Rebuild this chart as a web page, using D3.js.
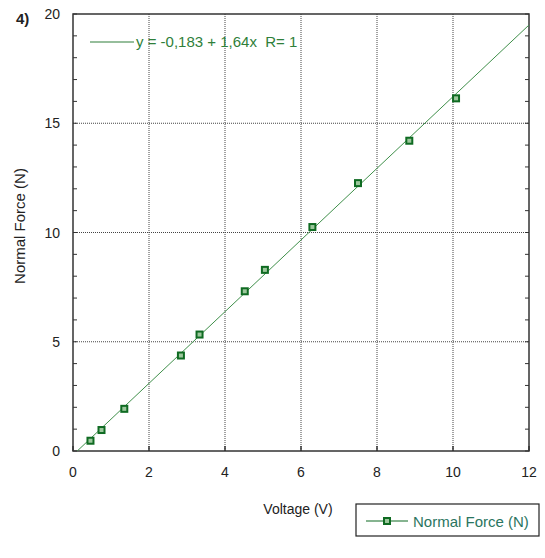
<!DOCTYPE html>
<html><head><meta charset="utf-8">
<script src="https://cdn.jsdelivr.net/npm/d3@7"></script>
<style>body{margin:0;background:#fff}svg{display:block}text{white-space:pre}</style>
</head><body>
<script>
const voltage = [0.46, 0.75, 1.35, 2.84, 3.33, 4.52, 5.05, 6.3, 7.5, 8.85, 10.08];
const force   = [0.47, 0.96, 1.93, 4.37, 5.33, 7.31, 8.29, 10.25, 12.26, 14.2, 16.14];
const xTicks = [0, 2, 4, 6, 8, 10, 12];
const yTicks = [0, 5, 10, 15, 20];
const yMinor = d3.range(0, 21, 1);
const fitIntercept = -0.183, fitSlope = 1.64;
const fitLabel = "y = -0,183 + 1,64x  R= 1";
const seriesName = "Normal Force (N)";

const W = 545, H = 558;
const svg = d3.select("body").append("svg").attr("width", W).attr("height", H);
const L = 73, R = 529, T = 14, B = 451;
const x = d3.scaleLinear().domain([0, 12]).range([L, R]);
const y = d3.scaleLinear().domain([0, 20]).range([B, T]);
const font = "Arial, 'Liberation Sans', sans-serif";
const frame = "#333";

// grid
const g = svg.append("g");
g.selectAll(".gx").data(xTicks.filter(d => d > 0 && d < 12)).join("line")
  .attr("x1", d => x(d)).attr("x2", d => x(d)).attr("y1", T).attr("y2", B)
  .attr("stroke", "#444").attr("stroke-width", 1).attr("stroke-dasharray", "1,1");
g.selectAll(".gy").data(yTicks.filter(d => d > 0 && d < 20)).join("line")
  .attr("y1", d => y(d)).attr("y2", d => y(d)).attr("x1", L).attr("x2", R)
  .attr("stroke", "#444").attr("stroke-width", 1).attr("stroke-dasharray", "1,1");

// minor ticks left and right (inward)
g.selectAll(".ml").data(yMinor).join("line")
  .attr("x1", L).attr("x2", L + 4).attr("y1", d => y(d)).attr("y2", d => y(d))
  .attr("stroke", frame).attr("stroke-width", 1);
g.selectAll(".mr").data(yMinor).join("line")
  .attr("x1", R - 4).attr("x2", R).attr("y1", d => y(d)).attr("y2", d => y(d))
  .attr("stroke", frame).attr("stroke-width", 1);
g.selectAll(".tx").data(xTicks).join("line")
  .attr("x1", d => x(d)).attr("x2", d => x(d)).attr("y1", B).attr("y2", B - 5)
  .attr("stroke", frame).attr("stroke-width", 1.5);

// frame
svg.append("rect").attr("x", L).attr("y", T).attr("width", R - L).attr("height", B - T)
  .attr("fill", "none").attr("stroke", frame).attr("stroke-width", 1.5);

// tick labels
svg.selectAll(".xl").data(xTicks).join("text")
  .attr("x", d => x(d)).attr("y", B + 26).attr("text-anchor", "middle")
  .attr("font-family", font).attr("font-size", 14).attr("fill", "#222").text(d => d);
svg.selectAll(".yl").data(yTicks).join("text")
  .attr("x", 60).attr("y", d => y(d) + 5).attr("text-anchor", "end")
  .attr("font-family", font).attr("font-size", 14).attr("fill", "#222").text(d => d);

// axis titles
svg.append("text").attr("x", 298).attr("y", 514).attr("text-anchor", "middle")
  .attr("font-family", font).attr("font-size", 14).attr("fill", "#222").text("Voltage (V)");
svg.append("text").attr("transform", "translate(25,226) rotate(-90)").attr("text-anchor", "middle")
  .attr("font-family", font).attr("font-size", 15).attr("fill", "#222").text("Normal Force (N)");
svg.append("text").attr("x", 16).attr("y", 24).attr("font-family", font)
  .attr("font-size", 15).attr("font-weight", "bold").attr("fill", "#222").text("4)");

// fit line
svg.append("clipPath").attr("id", "c").append("rect")
  .attr("x", L).attr("y", T).attr("width", R - L).attr("height", B - T);
const x0 = -fitIntercept / fitSlope;
svg.append("line").attr("clip-path", "url(#c)")
  .attr("x1", x(x0)).attr("y1", y(0)).attr("x2", x(12)).attr("y2", y(fitIntercept + fitSlope * 12))
  .attr("stroke", "#3f8f4a").attr("stroke-width", 1);

// markers
const data = voltage.map((v, i) => ({v, f: force[i]}));
svg.selectAll(".pt").data(data).join("rect")
  .attr("x", d => x(d.v) - 3).attr("y", d => y(d.f) - 3).attr("width", 6).attr("height", 6)
  .attr("fill", "#9cc79c").attr("stroke", "#0f6b22").attr("stroke-width", 2);

// fit legend
svg.append("line").attr("x1", 90).attr("x2", 134).attr("y1", 42).attr("y2", 42)
  .attr("stroke", "#2f7f3a").attr("stroke-width", 1.2);
svg.append("text").attr("x", 136).attr("y", 47).attr("font-family", font)
  .attr("font-size", 15).attr("fill", "#2f7f3a").text(fitLabel);

// series legend
svg.append("rect").attr("x", 356).attr("y", 504).attr("width", 183).attr("height", 32)
  .attr("fill", "#fff").attr("stroke", "#222").attr("stroke-width", 1.2);
svg.append("line").attr("x1", 366).attr("x2", 408).attr("y1", 521).attr("y2", 521)
  .attr("stroke", "#0f6b22").attr("stroke-width", 1.2);
svg.append("rect").attr("x", 384).attr("y", 518).attr("width", 6).attr("height", 6)
  .attr("fill", "#9cc79c").attr("stroke", "#0f6b22").attr("stroke-width", 2);
svg.append("text").attr("x", 413).attr("y", 527).attr("font-family", font)
  .attr("font-size", 15).attr("fill", "#2a7560").text(seriesName);
</script>
</body></html>
